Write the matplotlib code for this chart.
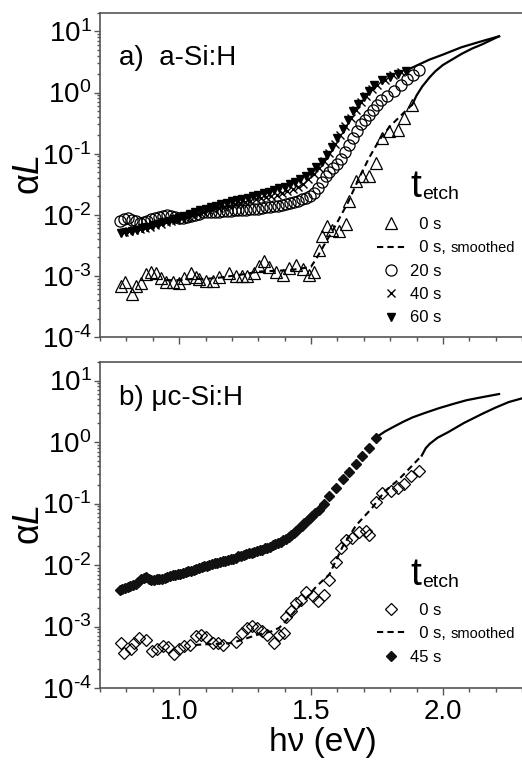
import numpy as np
import matplotlib
matplotlib.use("Agg")
import matplotlib.pyplot as plt
from matplotlib.ticker import MultipleLocator, LogLocator, FuncFormatter, NullFormatter

plt.rcParams['font.family'] = ['Liberation Sans', 'DejaVu Sans']
plt.rcParams['mathtext.fontset'] = 'custom'
plt.rcParams['mathtext.rm'] = 'Liberation Sans'
plt.rcParams['mathtext.it'] = 'Liberation Sans:italic'
plt.rcParams['mathtext.default'] = 'regular'

# ---------------- panel a) a-Si:H  (photon energy in eV, log10 of alpha*L) ----------------
a_e0 = [0.780, 0.796, 0.821, 0.836, 0.855, 0.874, 0.893, 0.912, 0.931, 0.950, 0.975, 1.000,
        1.019, 1.045, 1.064, 1.076, 1.102, 1.127, 1.152, 1.190, 1.215, 1.240, 1.259, 1.285,
        1.304, 1.322, 1.341, 1.367, 1.392, 1.417, 1.442, 1.468, 1.493, 1.512, 1.531, 1.543,
        1.562, 1.581, 1.607, 1.632, 1.644, 1.670, 1.695, 1.720, 1.745, 1.771, 1.796, 1.828,
        1.853, 1.884]
a_l0 = [-3.164, -3.093, -3.295, -3.164, -3.109, -2.967, -2.929, -2.956, -3.038, -3.093, -3.093, -3.109,
        -3.038, -2.945, -3.011, -3.055, -3.077, -3.077, -3.022, -2.956, -3.000, -3.000, -3.000, -2.956,
        -2.836, -2.749, -2.847, -2.929, -2.984, -2.874, -2.820, -2.891, -2.984, -2.929, -2.574, -2.355,
        -2.191, -2.246, -2.273, -2.148, -1.781, -1.454, -1.372, -1.372, -1.153, -0.743, -0.634, -0.617,
        -0.415, -0.197]

a_e0s = [0.95, 1.00, 1.05, 1.10, 1.15, 1.20, 1.25, 1.30, 1.35, 1.40, 1.45, 1.50, 1.52, 1.56,
         1.60, 1.64, 1.68, 1.72, 1.76, 1.80, 1.84, 1.884]
a_l0s = [-3.07, -3.07, -3.05, -3.05, -3.03, -3.00, -2.97, -2.93, -2.92, -2.91, -2.89, -2.85, -2.72, -2.42,
         -2.12, -1.80, -1.42, -1.07, -0.77, -0.55, -0.38, -0.197]

a_e0c = [1.884, 1.900, 1.922, 1.950, 1.972, 2.000, 2.035, 2.070, 2.111, 2.150, 2.174, 2.213]
a_l0c = [-0.197, -0.05, 0.10, 0.25, 0.35, 0.45, 0.54, 0.63, 0.72, 0.79, 0.84, 0.92]

a_e20 = [0.775, 0.790, 0.805, 0.820, 0.835, 0.850, 0.865, 0.880, 0.895, 0.910, 0.925, 0.940, 0.955,
         0.970, 0.985, 1.000, 1.015, 1.030, 1.045, 1.060, 1.075, 1.090, 1.105, 1.120, 1.135, 1.150,
         1.165, 1.180, 1.195, 1.210, 1.225, 1.240, 1.255, 1.270, 1.285, 1.300, 1.315, 1.330, 1.345,
         1.360, 1.375, 1.390, 1.405, 1.420, 1.435, 1.450, 1.465, 1.480, 1.495, 1.510, 1.525, 1.540,
         1.555, 1.570, 1.585, 1.600, 1.615, 1.630, 1.645, 1.660, 1.675, 1.690, 1.705, 1.720, 1.735,
         1.750, 1.765, 1.790, 1.815, 1.840, 1.865, 1.885, 1.910]
a_l20 = [-2.11, -2.07, -2.06, -2.08, -2.11, -2.13, -2.12, -2.10, -2.07, -2.05, -2.03, -2.02, -2.01,
         -2.02, -2.04, -2.05, -2.05, -2.04, -2.02, -2.00, -1.98, -1.96, -1.95, -1.95, -1.95, -1.95,
         -1.94, -1.94, -1.94, -1.93, -1.93, -1.92, -1.92, -1.91, -1.91, -1.90, -1.89, -1.88, -1.87,
         -1.86, -1.85, -1.84, -1.83, -1.81, -1.79, -1.77, -1.75, -1.72, -1.69, -1.64, -1.56, -1.47,
         -1.37, -1.30, -1.24, -1.17, -1.08, -0.97, -0.86, -0.75, -0.63, -0.52, -0.45, -0.37, -0.29,
         -0.21, -0.13, -0.05, 0.03, 0.12, 0.22, 0.29, 0.37]

a_e40 = [0.79, 0.81, 0.83, 0.85, 0.87, 0.89, 0.91, 0.93, 0.95, 0.97, 0.99, 1.01, 1.03, 1.05, 1.07,
         1.09, 1.11, 1.13, 1.15, 1.17, 1.19, 1.21, 1.23, 1.25, 1.27, 1.29, 1.31, 1.33, 1.35, 1.37,
         1.39, 1.41, 1.43, 1.45, 1.47, 1.49, 1.51, 1.53, 1.55, 1.57, 1.59, 1.61, 1.63, 1.65, 1.67,
         1.69, 1.71, 1.73, 1.75, 1.78, 1.81, 1.84]
a_l40 = [-2.28, -2.27, -2.25, -2.24, -2.22, -2.20, -2.17, -2.15, -2.12, -2.10, -2.08, -2.05, -2.03,
         -2.00, -1.98, -1.96, -1.93, -1.91, -1.89, -1.87, -1.85, -1.83, -1.81, -1.79, -1.77, -1.75,
         -1.73, -1.71, -1.69, -1.67, -1.64, -1.61, -1.58, -1.54, -1.49, -1.42, -1.33, -1.23, -1.12,
         -0.99, -0.85, -0.70, -0.55, -0.41, -0.28, -0.16, -0.05, 0.05, 0.13, 0.21, 0.28, 0.33]

a_e60 = [0.78, 0.80, 0.82, 0.84, 0.86, 0.88, 0.90, 0.92, 0.94, 0.96, 0.98, 1.00, 1.02, 1.04, 1.06,
         1.08, 1.10, 1.12, 1.14, 1.16, 1.18, 1.20, 1.22, 1.24, 1.26, 1.28, 1.30, 1.32, 1.34, 1.36,
         1.38, 1.40, 1.42, 1.44, 1.46, 1.48, 1.50, 1.52, 1.54, 1.56, 1.58, 1.60, 1.62, 1.64, 1.66,
         1.68, 1.70, 1.72, 1.74, 1.77, 1.80, 1.83, 1.86]
a_l60 = [-2.30, -2.28, -2.26, -2.25, -2.22, -2.20, -2.17, -2.15, -2.12, -2.10, -2.07, -2.05, -2.02,
         -1.99, -1.96, -1.93, -1.90, -1.87, -1.85, -1.83, -1.80, -1.78, -1.76, -1.74, -1.72, -1.70,
         -1.68, -1.65, -1.63, -1.60, -1.57, -1.54, -1.50, -1.46, -1.42, -1.37, -1.30, -1.22, -1.13,
         -1.02, -0.89, -0.75, -0.60, -0.45, -0.31, -0.18, -0.07, 0.03, 0.12, 0.20, 0.26, 0.31, 0.36]

a_ehi = [1.86, 1.91, 1.95, 2.00, 2.07, 2.14, 2.213]
a_lhi = [0.36, 0.46, 0.54, 0.62, 0.74, 0.83, 0.92]

# ---------------- panel b) uc-Si:H ----------------
b_e0 = [0.780, 0.792, 0.817, 0.830, 0.849, 0.874, 0.899, 0.918, 0.937, 0.956, 0.981, 1.000,
        1.019, 1.041, 1.064, 1.083, 1.102, 1.127, 1.146, 1.167, 1.215, 1.240, 1.259, 1.278,
        1.297, 1.316, 1.335, 1.360, 1.379, 1.398, 1.405, 1.424, 1.442, 1.461, 1.480, 1.506,
        1.525, 1.550, 1.569, 1.594, 1.613, 1.632, 1.657, 1.682, 1.708, 1.720, 1.745, 1.771,
        1.802, 1.828, 1.853, 1.878, 1.910]
b_l0 = [-3.271, -3.423, -3.369, -3.271, -3.189, -3.216, -3.391, -3.369, -3.325, -3.336, -3.445, -3.369,
        -3.325, -3.298, -3.162, -3.135, -3.173, -3.271, -3.271, -3.298, -3.244, -3.107, -3.026, -2.988,
        -3.026, -3.080, -3.135, -3.271, -3.135, -3.107, -2.846, -2.754, -2.618, -2.563, -2.444, -2.509,
        -2.591, -2.482, -2.237, -1.954, -1.720, -1.595, -1.556, -1.464, -1.448, -1.518, -0.974, -0.822,
        -0.795, -0.740, -0.686, -0.550, -0.468]

b_e0s = [1.06, 1.10, 1.15, 1.20, 1.25, 1.30, 1.35, 1.38, 1.42, 1.47, 1.52, 1.57, 1.62, 1.67,
         1.73, 1.78, 1.83, 1.86, 1.92]
b_l0s = [-3.30, -3.29, -3.28, -3.27, -3.20, -3.13, -3.08, -3.02, -2.84, -2.60, -2.35, -2.15, -1.70, -1.36,
         -1.08, -0.80, -0.62, -0.49, -0.22]

b_e0c = [1.92, 1.935, 1.95, 1.98, 2.02, 2.08, 2.15, 2.20, 2.25, 2.30]
b_l0c = [-0.22, -0.10, -0.03, 0.07, 0.16, 0.31, 0.46, 0.56, 0.65, 0.71]

b_e45 = [0.775, 0.785, 0.795, 0.805, 0.815, 0.825, 0.835, 0.845, 0.855, 0.865, 0.875, 0.885, 0.895,
         0.905, 0.915, 0.925, 0.935, 0.945, 0.955, 0.965, 0.975, 0.985, 0.995, 1.005, 1.015, 1.025,
         1.035, 1.045, 1.055, 1.065, 1.075, 1.085, 1.095, 1.105, 1.115, 1.125, 1.135, 1.145, 1.155,
         1.165, 1.175, 1.185, 1.195, 1.205, 1.215, 1.225, 1.235, 1.245, 1.255, 1.265, 1.275, 1.285,
         1.295, 1.305, 1.315, 1.325, 1.335, 1.345, 1.355, 1.365, 1.375, 1.385, 1.395, 1.405, 1.415,
         1.425, 1.435, 1.445, 1.455, 1.465, 1.475, 1.485, 1.495, 1.505, 1.515, 1.530, 1.550, 1.570,
         1.595, 1.620, 1.645, 1.670, 1.695, 1.720, 1.745]
b_l45 = [-2.40, -2.39, -2.37, -2.36, -2.34, -2.33, -2.31, -2.27, -2.23, -2.21, -2.20, -2.22, -2.24,
         -2.24, -2.23, -2.23, -2.22, -2.21, -2.20, -2.18, -2.17, -2.16, -2.15, -2.14, -2.13, -2.11,
         -2.10, -2.09, -2.08, -2.06, -2.05, -2.04, -2.02, -2.01, -2.00, -1.98, -1.97, -1.96, -1.95,
         -1.94, -1.93, -1.92, -1.91, -1.90, -1.88, -1.86, -1.85, -1.84, -1.82, -1.81, -1.80, -1.79,
         -1.78, -1.76, -1.75, -1.73, -1.72, -1.70, -1.68, -1.66, -1.64, -1.62, -1.60, -1.57, -1.54,
         -1.51, -1.48, -1.44, -1.40, -1.36, -1.32, -1.28, -1.24, -1.20, -1.16, -1.10, -1.01, -0.88,
         -0.74, -0.60, -0.48, -0.36, -0.23, -0.09, 0.07]

b_e45c = [1.745, 1.78, 1.81, 1.85, 1.885, 1.93, 1.985, 2.04, 2.09, 2.15, 2.213]
b_l45c = [0.07, 0.17, 0.24, 0.33, 0.40, 0.47, 0.55, 0.62, 0.68, 0.73, 0.78]

xticks_major = [1.0, 1.5, 2.0]
legend_a = ['  0 s', '  0 s,', '20 s', '40 s', '60 s']
legend_b = ['  0 s', '  0 s,', '45 s']


def p(v):
    return 10.0 ** np.asarray(v)


fig = plt.figure(figsize=(5.22, 7.61), dpi=100)
ax1 = fig.add_axes([100 / 522, 1 - 337 / 761, 422 / 522, 324 / 761])
ax2 = fig.add_axes([100 / 522, 1 - 688 / 761, 422 / 522, 326 / 761])

spine_col = '#555555'


def dec_fmt(v, pos):
    e = int(round(np.log10(v)))
    if e < 0:
        return r'$10^{\text{-%d}}$' % (-e)
    return r'$10^{%d}$' % e


for ax in (ax1, ax2):
    ax.set_yscale('log')
    ax.set_xlim(0.7, 2.3)
    ax.set_ylim(1e-4, 20)
    ax.xaxis.set_major_locator(MultipleLocator(0.5))
    ax.xaxis.set_minor_locator(MultipleLocator(0.1))
    ax.yaxis.set_major_locator(LogLocator(base=10, numticks=10))
    ax.yaxis.set_minor_locator(LogLocator(base=10, subs=np.arange(2, 10), numticks=10))
    ax.yaxis.set_major_formatter(FuncFormatter(dec_fmt))
    ax.yaxis.set_minor_formatter(NullFormatter())
    ax.spines['right'].set_visible(False)
    for s in ('left', 'bottom', 'top'):
        ax.spines[s].set_color(spine_col)
        ax.spines[s].set_linewidth(1.2)
    ax.tick_params(which='both', direction='out', color=spine_col, width=1.0, labelsize=20,
                   top=False, right=False)
    ax.tick_params(axis='x', which='major', length=5, pad=3)
    ax.tick_params(axis='x', which='minor', length=3)
    ax.tick_params(axis='y', which='major', length=4, pad=2)
    ax.tick_params(axis='y', which='minor', length=2.5)
    ax.set_ylabel(r'$\alpha\mathit{L}$', fontsize=26)
    ax.yaxis.set_label_coords(-0.125, 0.5)

ax1.tick_params(axis='x', labelbottom=False)

# ---- panel a ----
ax1.plot(a_e0c, p(a_l0c), '-', color='black', lw=1.6)
ax1.plot(a_ehi, p(a_lhi), '-', color='black', lw=1.6)
h0, = ax1.plot(a_e0, p(a_l0), ls='none', marker='^', ms=8.5, mfc='none', mec='black', mew=0.9)
h0s, = ax1.plot(a_e0s, p(a_l0s), ls=(0, (3, 2)), color='black', lw=1.5)
h20, = ax1.plot(a_e20, p(a_l20), ls='none', marker='o', ms=8, mfc='none', mec='black', mew=0.9)
h40, = ax1.plot(a_e40, p(a_l40), ls='none', marker='x', ms=6, mec='black', mew=1.0)
h60, = ax1.plot(a_e60, p(a_l60), ls='none', marker='v', ms=6, mfc='black', mec='black')

leg1 = ax1.legend([h0, h0s, h20, h40, h60], legend_a, loc='upper left', bbox_to_anchor=(0.656, 0.37),
                  frameon=False, fontsize=12, handlelength=1.7, handletextpad=0.3, labelspacing=0.5,
                  borderpad=0, borderaxespad=0, numpoints=1)
ax1.annotate('smoothed', xy=(1, 0), xycoords=leg1.get_texts()[1], xytext=(3, 0),
             textcoords='offset points', va='bottom', ha='left', fontsize=10.5, zorder=10)
ax1.text(0.735, 0.432, 't', transform=ax1.transAxes, fontsize=28, va='baseline', ha='left')
ax1.text(0.764, 0.426, 'etch', transform=ax1.transAxes, fontsize=14, va='baseline', ha='left')
ax1.text(0.045, 0.840, 'a)  a-Si:H', transform=ax1.transAxes, fontsize=20, va='baseline', ha='left')

# ---- panel b ----
ax2.plot(b_e0c, p(b_l0c), '-', color='black', lw=1.6)
ax2.plot(b_e45c, p(b_l45c), '-', color='black', lw=1.6)
g0, = ax2.plot(b_e0, p(b_l0), ls='none', marker='D', ms=6, mfc='none', mec='black', mew=0.9)
g0s, = ax2.plot(b_e0s, p(b_l0s), ls=(0, (3, 2)), color='black', lw=1.5)
g45, = ax2.plot(b_e45, p(b_l45), ls='none', marker='D', ms=5.5, mfc='#111111', mec='#111111')

leg2 = ax2.legend([g0, g0s, g45], legend_b, loc='upper left', bbox_to_anchor=(0.656, 0.261),
                  frameon=False, fontsize=12, handlelength=1.7, handletextpad=0.3, labelspacing=0.5,
                  borderpad=0, borderaxespad=0, numpoints=1)
ax2.annotate('smoothed', xy=(1, 0), xycoords=leg2.get_texts()[1], xytext=(3, 0),
             textcoords='offset points', va='bottom', ha='left', fontsize=10.5, zorder=10)
ax2.text(0.735, 0.316, 't', transform=ax2.transAxes, fontsize=28, va='baseline', ha='left')
ax2.text(0.764, 0.310, 'etch', transform=ax2.transAxes, fontsize=14, va='baseline', ha='left')
ax2.text(0.045, 0.868, 'b) \u03bcc-Si:H', transform=ax2.transAxes, fontsize=20, va='baseline', ha='left')

ax2.set_xticks(xticks_major)
ax2.set_xticklabels(['1.0', '1.5', '2.0'])
ax2.xaxis.set_minor_locator(MultipleLocator(0.1))
ax2.set_xlabel('h\u03bd (eV)', fontsize=24)
ax2.xaxis.set_label_coords(0.528, -0.12)

fig.savefig('out.png', dpi=100)
